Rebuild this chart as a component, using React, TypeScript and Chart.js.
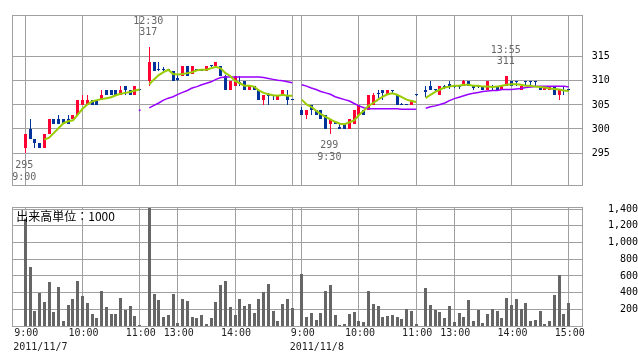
import React, { useEffect, useRef } from "react";
import { Chart, registerables } from "chart.js";

Chart.register(...registerables);

// 5-minute slots: day1 AM 0-24, gap 25, day1 PM 26-56, gap 57, day2 AM 58-82, gap 83, day2 PM 84-114
const OPEN: (number | null)[] = [
  296, 300, 298, 297, 296, 299, 302, 302, 302, 302, 302, 303, 305, 305, 306, 306, 306, 308, 308, 308, 307, 309, 308, 307, 308,
  null,
  310, 314, 312.5, 312.5, 312.3, 312, 310.5, 311, 313, 311.5, 312.3, 312.3, 312, 313, 313, 313, 311, 308, 309, 309.8, 310, 308, 309, 308, 306, 307, 307, 306, 307, 307, 306.2,
  null,
  304, 303, 305, 304, 304, 303, 301, 301.5, 300.5, 301, 300, 301, 303, 304, 304, 305, 307.5, 308, 307, 308, 307, 305, 305.2, 305, 307,
  null,
  308, 309, 308.1, 307, 309, 309.3, 309, 309, 309, 310, 309, 309, 309, 308, 309, 309, 308, 309, 310, 310, 308, 310, 310, 310, 309, 308, 308, 309, 307, 308, 308.1,
];
const HIGH: (number | null)[] = [
  299, 302, 298, 297, 299, 302, 302, 303, 302, 303, 303, 306, 307, 307, 306, 306, 308, 308, 308, 308, 309, 309, 308, 309, 308,
  null,
  317, 314, 314, 312.8, 312.5, 312, 311.3, 313, 313, 313, 312.5, 312.5, 313, 313.2, 314, 313, 311.3, 310, 311, 311, 310, 309, 309, 308, 307, 307.5, 307, 307, 308, 308, 306.2,
  null,
  304.5, 304, 305, 304, 304, 303, 302, 301.5, 301, 301, 302, 304, 305, 304, 307, 307.5, 308, 308, 308, 308, 307, 305.5, 305.2, 306, 307,
  null,
  309, 310, 308.2, 309, 309.2, 310, 309.2, 309.2, 310.2, 310, 309.2, 309.2, 309, 310, 309.2, 309, 309, 311, 310, 310, 309, 310, 310, 310, 309, 309, 309, 309, 308, 309, 308.1,
];
const LOW: (number | null)[] = [
  295, 298, 296, 296, 296, 299, 301, 301, 301, 301, 302, 303, 305, 305, 305, 305, 306, 307, 307, 307, 307, 307, 307, 307, 308,
  null,
  309, 312, 312, 312, 312, 310, 310, 311, 311, 311.5, 312, 312, 312, 312.8, 313, 311, 308, 308, 309, 309, 308, 308, 308, 306, 305, 305, 306, 306, 307, 305, 306,
  null,
  303, 302, 303, 303, 302, 300, 299, 301, 300, 300, 300, 301, 303, 303, 304, 305, 306.5, 306, 307, 307.5, 305, 305, 305, 305, 307,
  null,
  306.7, 308, 308, 307, 308.3, 308.4, 308.5, 308.3, 309, 309, 308, 308.5, 308, 308, 308.2, 308, 308, 309, 309, 309, 308, 309, 309, 309, 308, 308, 308, 307, 306, 307, 308,
];
const CLOSE: (number | null)[] = [
  299, 298, 297, 296, 299, 302, 301, 301, 301, 301, 303, 306, 306, 306, 305, 305, 307, 307, 307, 307, 308, 308, 307, 309, 308,
  null,
  314, 312, 312.2, 312.2, 312.2, 310, 310.2, 313, 311, 313, 312.2, 312, 313, 313, 314, 311, 308, 310, 311, 309.6, 308, 309, 308, 306, 307, 306.8, 306.8, 307, 308, 306, 306,
  null,
  303, 304, 304, 303, 302, 300, 302, 301, 300, 300, 302, 304, 305, 303, 307, 307, 307.3, 307.5, 308, 307.8, 305, 305, 305, 306, 307,
  null,
  307.6, 308, 308, 309, 308.6, 308.8, 308.7, 308.7, 310, 309, 308.6, 308.8, 308, 310, 308.7, 308, 309, 311, 309, 309.7, 309, 309.7, 309.7, 309.7, 308, 309, 309, 307, 308, 307.8, 308,
];
const MA_SHORT: (number | null)[] = [
  null, null, null, null, 297.8, 298.2, 299.2, 300.2, 301.2, 301.6, 301.8, 303.0, 304.2, 305.1, 305.7, 306.0, 306.2, 306.4, 306.6, 307.0, 307.3, 307.5, 307.7, 308.0, 308.2,
  null,
  309.3, 310.3, 311.2, 311.8, 312.3, 311.4, 311.3, 311.4, 311.6, 311.8, 312.2, 312.3, 312.3, 312.6, 312.9, 312.6, 311.6, 311.0, 310.0, 309.5, 309.0, 309.0, 308.8, 308.0, 307.5, 307.2, 307.0, 306.9, 307.1, 306.9, 306.9,
  null,
  306.1, 305.1, 304.6, 303.8, 303.1, 302.5, 302.0, 301.5, 301.1, 301.0, 301.4, 301.8, 302.9, 303.8, 304.8, 305.4, 306.1, 306.7, 307.2, 307.4, 307.1, 306.6, 306.1, 305.8, 305.6,
  null,
  306.4, 307.1, 307.7, 308.2, 308.6, 308.8, 309.0, 309.0, 309.2, 309.2, 309.0, 309.0, 308.8, 308.8, 308.7, 308.8, 309.0, 309.2, 309.3, 309.3, 309.2, 309.0, 309.0, 308.8, 308.7, 308.6, 308.4, 308.3, 308.2, 308.0, 307.9,
];
const MA_LONG: (number | null)[] = [
  null, null, null, null, null, null, null, null, null, null, null, null, null, null, null, null, null, null, null, null, null, null, null, null, 303.9,
  null,
  304.4, 304.9, 305.4, 306.0, 306.4, 306.7, 307.2, 307.6, 308.0, 308.5, 308.8, 309.2, 309.5, 309.8, 310.3, 310.7, 310.8, 310.8, 310.8, 310.8, 310.8, 310.8, 310.8, 310.8, 310.7, 310.5, 310.3, 310.1, 310.0, 309.8, 309.6,
  null,
  309.2, 308.9, 308.5, 308.2, 307.8, 307.5, 307.2, 306.7, 306.4, 306.1, 305.8, 305.3, 304.8, 304.4, 304.2, 304.2, 304.2, 304.2, 304.2, 304.2, 304.2, 304.1, 304.1, 304.1, 304.1,
  null,
  304.3, 304.6, 304.8, 305.1, 305.4, 305.9, 306.3, 306.6, 306.9, 307.2, 307.4, 307.6, 307.8, 307.9, 308.0, 308.0, 308.2, 308.2, 308.2, 308.3, 308.4, 308.6, 308.7, 308.8, 308.9, 308.9, 308.9, 308.9, 308.9, 308.9, 308.7,
];
const VOLUME: (number | null)[] = [
  1390, 706, 176, 400, 282, 529, 165, 470, 59, 247, 318, 541, 365, 270, 141, 94, 423, 223, 141, 141, 341, 188, 235, 118, 12,
  null,
  1410, 388, 306, 106, 129, 388, 35, 329, 294, 106, 94, 129, 24, 94, 282, 494, 541, 223, 129, 329, 235, 259, 153, 329, 412, 506, 176, 59, 259, 329, 212,
  null,
  623, 106, 153, 71, 153, 423, 494, 129, 12, 24, 141, 165, 59, 47, 423, 259, 235, 106, 118, 129, 106, 82, 200, 176, 24,
  null,
  459, 247, 188, 165, 94, 235, 47, 153, 106, 306, 59, 188, 35, 141, 200, 176, 94, 341, 247, 329, 200, 270, 59, 71, 176, 24, 59, 376, 612, 141, 270,
];

const GRID_SLOTS = [0, 12, 24, 32, 44, 56, 58, 70, 82, 90, 102, 114];
const TIME_LABEL_SLOTS = [0, 12, 24, 32, 44, 58, 70, 82, 90, 102, 114];
const TIME_LABELS = ["9:00", "10:00", "11:00", "13:00", "14:00", "9:00", "10:00", "11:00", "13:00", "14:00", "15:00"];
const DATE_LABEL_SLOTS = [0, 58];
const DATE_LABELS = ["2011/11/7", "2011/11/8"];
const PRICE_TICKS = [295, 300, 305, 310, 315];
const VOLUME_TICKS = [200, 400, 600, 800, 1000, 1200, 1400];
const EXTREME_SLOTS = [0, 26, 64, 101];
const EXTREME_TIMES = ["9:00", "12:30", "9:30", "13:55"];
const EXTREME_KINDS = ["low", "high", "low", "high"];
const VOLUME_UNIT = "出来高単位：1000";

const UP = "#ff0033";
const DOWN = "#003399";
const MA_SHORT_COLOR = "#99cc00";
const MA_LONG_COLOR = "#9900ff";
const VOL_COLOR = "#666666";
const GRID = "#a0a0a0";
const MONO = '"DejaVu Sans Mono", "Liberation Mono", monospace';

const X_MIN = -2.73;
const X_MAX = 116.94;

const crispBars = {
  id: "crispBars",
  beforeDatasetDraw(chart: any, args: any) {
    const meta = args.meta;
    if (meta.type !== "bar") return;
    const ctx = chart.ctx;
    ctx.save();
    for (const el of meta.data) {
      const p = el.getProps(["x", "y", "base", "width"], true);
      if (p.y == null || isNaN(p.y) || isNaN(p.base)) continue;
      const w = Math.max(1, Math.round(p.width));
      const left = Math.round(p.x - p.width / 2);
      const top = Math.round(Math.min(p.y, p.base));
      const h = Math.max(1, Math.round(Math.max(p.y, p.base)) - top);
      ctx.fillStyle = el.options.backgroundColor;
      ctx.fillRect(left, top, w, h);
    }
    ctx.restore();
    return false;
  },
};

const frame = {
  id: "frame",
  afterDraw(chart: any) {
    const { ctx, chartArea: a } = chart;
    ctx.save();
    ctx.strokeStyle = GRID;
    ctx.lineWidth = 1;
    const l = Math.floor(a.left) + 0.5;
    const t = Math.floor(a.top) + 0.5;
    const r = Math.floor(a.right) + 0.5;
    const b = Math.floor(a.bottom) + 0.5;
    ctx.strokeRect(l, t, r - l, b - t);
    ctx.restore();
  },
};

const extremes = {
  id: "extremes",
  afterDatasetsDraw(chart: any) {
    const { ctx, scales } = chart;
    ctx.save();
    ctx.font = `10px ${MONO}`;
    ctx.fillStyle = "#666666";
    ctx.textAlign = "center";
    ctx.textBaseline = "middle";
    EXTREME_SLOTS.forEach((slot, k) => {
      const high = EXTREME_KINDS[k] === "high";
      const val = (high ? HIGH[slot] : LOW[slot]) as number;
      const px = scales.x.getPixelForValue(slot) - 1;
      const py = scales.y.getPixelForValue(val);
      if (high) {
        ctx.fillText(String(val), px, py - 15);
        ctx.fillText(EXTREME_TIMES[k], px, py - 26);
      } else {
        ctx.fillText(String(val), px, py + 12);
        ctx.fillText(EXTREME_TIMES[k], px, py + 24);
      }
    });
    ctx.restore();
  },
};

const volumeDecor = {
  id: "volumeDecor",
  afterDatasetsDraw(chart: any) {
    const { ctx, chartArea: a, scales } = chart;
    ctx.save();
    ctx.fillStyle = "#ffffff";
    ctx.fillRect(a.left + 2, a.top + 3, 98, 8.5);
    ctx.fillStyle = "#000000";
    ctx.font = '12px "Noto Sans CJK JP", sans-serif';
    ctx.textAlign = "left";
    ctx.textBaseline = "middle";
    ctx.fillText(VOLUME_UNIT, a.left + 4, a.top + 9);
    ctx.font = `10px ${MONO}`;
    ctx.fillStyle = "#222222";
    ctx.textAlign = "center";
    const labelY = a.bottom + 7;
    TIME_LABEL_SLOTS.forEach((slot, k) => {
      ctx.fillText(TIME_LABELS[k], scales.x.getPixelForValue(slot) + 1, labelY);
    });
    ctx.textAlign = "left";
    DATE_LABEL_SLOTS.forEach((slot, k) => {
      const px = scales.x.getPixelForValue(slot);
      const idx = TIME_LABEL_SLOTS.indexOf(slot);
      const w = ctx.measureText(TIME_LABELS[idx]).width;
      ctx.fillText(DATE_LABELS[k], px - w / 2, labelY + 14);
    });
    ctx.restore();
  },
};

const xAxis = (height: number) => ({
  type: "linear",
  min: X_MIN,
  max: X_MAX,
  offset: false,
  position: "bottom",
  afterBuildTicks: (s: any) => {
    s.ticks = GRID_SLOTS.map((v) => ({ value: v }));
  },
  ticks: { display: false },
  grid: { color: GRID, drawTicks: false, lineWidth: 1, offset: false },
  border: { display: false },
  afterFit: (s: any) => {
    s.height = height;
  },
});

export default function App() {
  const priceRef = useRef<HTMLCanvasElement>(null);
  const volRef = useRef<HTMLCanvasElement>(null);

  useEffect(() => {
    const slots = OPEN.map((_, i) => i);
    const valid = slots.filter((i) => OPEN[i] != null);
    const colorOf = (i: number) => ((CLOSE[i] as number) > (OPEN[i] as number) ? UP : DOWN);

    const price = new Chart(priceRef.current as HTMLCanvasElement, {
      type: "bar",
      data: {
        datasets: [
          {
            type: "line",
            data: MA_SHORT.map((v, i) => ({ x: i, y: v })),
            borderColor: MA_SHORT_COLOR,
            borderWidth: 2,
            pointRadius: 0,
            spanGaps: false,
            order: 0,
          },
          {
            type: "line",
            data: MA_LONG.map((v, i) => ({ x: i, y: v })),
            borderColor: MA_LONG_COLOR,
            backgroundColor: MA_LONG_COLOR,
            borderWidth: 1.5,
            pointRadius: (c: any) => {
              const i = c.dataIndex;
              return MA_LONG[i] != null && MA_LONG[i - 1] == null && MA_LONG[i + 1] == null ? 1 : 0;
            },
            pointBorderWidth: 0,
            spanGaps: false,
            order: 0,
          },
          {
            type: "bar",
            data: valid.map((i) => ({ x: i, y: [LOW[i], HIGH[i]] })),
            backgroundColor: valid.map(colorOf),
            barThickness: 1,
            grouped: false,
            order: 2,
          },
          {
            type: "bar",
            data: valid.map((i) => ({ x: i, y: [OPEN[i], CLOSE[i]] })),
            backgroundColor: valid.map(colorOf),
            barThickness: 3,
            minBarLength: 1,
            grouped: false,
            order: 1,
          },
        ] as any,
      },
      options: {
        responsive: false,
        devicePixelRatio: 1,
        animation: false,
        layout: { padding: { left: 12.3, top: 10.3, right: 0, bottom: 0 } },
        plugins: { legend: { display: false }, tooltip: { enabled: false } },
        scales: {
          x: xAxis(9.7) as any,
          y: {
            type: "linear",
            position: "right",
            min: 288.37,
            max: 323.67,
            afterBuildTicks: (s: any) => {
              s.ticks = PRICE_TICKS.map((v) => ({ value: v }));
            },
            ticks: {
              font: { family: MONO, size: 10 },
              color: "#000000",
              padding: 9,
              crossAlign: "near",
              callback: (v: any) => String(v),
            },
            grid: { color: GRID, drawTicks: false, lineWidth: 1 },
            border: { display: false },
            afterFit: (s: any) => {
              s.width = 55.3;
            },
          } as any,
        },
      },
      plugins: [crispBars, frame, extremes],
    });

    const volume = new Chart(volRef.current as HTMLCanvasElement, {
      type: "bar",
      data: {
        datasets: [
          {
            data: valid.map((i) => ({ x: i, y: VOLUME[i] })),
            backgroundColor: VOL_COLOR,
            barThickness: 3,
            grouped: false,
          },
        ] as any,
      },
      options: {
        responsive: false,
        devicePixelRatio: 1,
        animation: false,
        layout: { padding: { left: 12.3, top: 10.3, right: 0, bottom: 0 } },
        plugins: { legend: { display: false }, tooltip: { enabled: false } },
        scales: {
          x: xAxis(36) as any,
          y: {
            type: "linear",
            position: "right",
            min: 0,
            max: 1423.6,
            afterBuildTicks: (s: any) => {
              s.ticks = VOLUME_TICKS.map((v) => ({ value: v }));
            },
            ticks: {
              font: { family: MONO, size: 10 },
              color: "#000000",
              padding: 6.2,
              crossAlign: "far",
              autoSkip: false,
              callback: (v: any) => Number(v).toLocaleString("en-US"),
            },
            grid: { color: GRID, drawTicks: false, lineWidth: 1 },
            border: { display: false },
            afterFit: (s: any) => {
              s.width = 55.3;
            },
          } as any,
        },
      },
      plugins: [crispBars, frame, volumeDecor],
    });

    return () => {
      price.destroy();
      volume.destroy();
    };
  }, []);

  return (
    <div style={{ position: "absolute", left: 0, top: 0, width: 638, height: 362, background: "#ffffff" }}>
      <canvas ref={priceRef} width={638} height={200} style={{ position: "absolute", left: 0, top: 0 }} />
      <canvas ref={volRef} width={638} height={167} style={{ position: "absolute", left: 0, top: 195 }} />
    </div>
  );
}
